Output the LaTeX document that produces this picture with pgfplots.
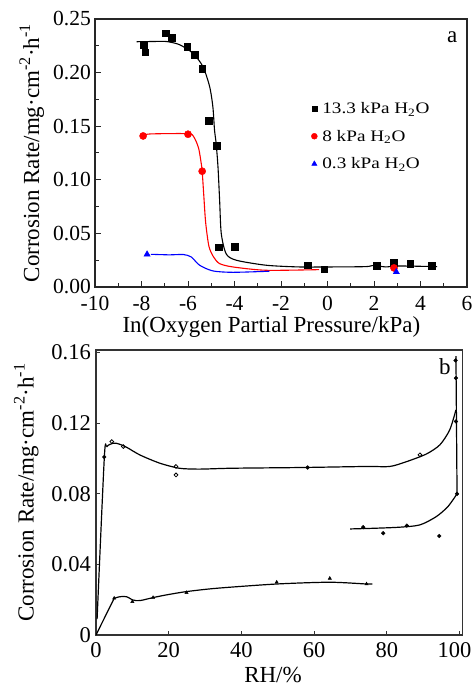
\documentclass[border=0pt]{standalone}
\usepackage{fontspec}
\setmainfont{Liberation Serif}
\usepackage{graphicx}
\usepackage{pgfplots}
\pgfplotsset{compat=1.18}
\newcommand{\legtxt}[1]{\scalebox{1.2}[1]{#1}}
\begin{document}
\begin{tikzpicture}[x=1pt,y=1pt]
\path[use as bounding box] (0,0) rectangle (473,686);
% ---------------- panel a ----------------
\begin{axis}[
  scale only axis, width=372pt, height=268pt,
  at={(95pt,399pt)}, anchor=south west,
  xmin=-10, xmax=6, ymin=0, ymax=0.25,
  xtick={-10,-8,-6,-4,-2,0,2,4,6},
  ytick={0,0.05,0.1,0.15,0.2,0.25},
  minor x tick num=1, minor y tick num=1,
  tick align=inside, xtick pos=bottom, ytick pos=left,
  major tick length=6pt, minor tick length=3.5pt,
  axis line style={line width=1.4pt, black!85},
  every tick/.style={black!85, line width=1pt},
  scaled y ticks=false,
  /pgf/number format/assume math mode=true,
  yticklabel style={/pgf/number format/fixed, /pgf/number format/fixed zerofill, /pgf/number format/precision=2, inner sep=1pt, xshift=-3pt},
  xticklabel style={inner sep=1pt, yshift=-8pt},
  tick label style={font=\fontsize{21.5}{21.5}\selectfont},
  xlabel={In(Oxygen Partial Pressure/kPa)},
  ylabel={Corrosion Rate/mg\textperiodcentered cm\textsuperscript{-2}\textperiodcentered h\textsuperscript{-1}},
  label style={font=\fontsize{23}{23}\selectfont, inner sep=1pt},
  xlabel style={at={(axis description cs:0.474,-0.1716)}, anchor=base},
  ylabel style={at={(axis description cs:-0.17,0.5)}, anchor=center},
  legend style={draw=none, fill=none, at={(0.573,0.701)}, anchor=north west,
    font=\fontsize{16}{16}\selectfont, row sep=13pt,
    nodes={inner sep=1pt},
    /tikz/every odd column/.append style={column sep=4pt}},
  legend cell align=left,
]
\addplot[black, line width=1.1pt, smooth, tension=0.45, forget plot] coordinates {
(-8.21,0.2288) (-7.5,0.229) (-6.93,0.229) (-6.36,0.226) (-5.79,0.218) (-5.36,0.2057)
(-5.07,0.187) (-4.93,0.168) (-4.86,0.1465) (-4.79,0.134) (-4.71,0.112) (-4.64,0.081)
(-4.57,0.05) (-4.36,0.031) (-3.93,0.025) (-2.64,0.0203) (-1.21,0.0187) (0.21,0.0187)
(1.64,0.019) (1.93,0.0200) (2.2,0.0196) (2.5,0.0187) (3.07,0.0196) (4.71,0.019)};
\addplot[red, line width=1.1pt, smooth, tension=0.45, forget plot] coordinates {
(-7.93,0.1415) (-7.6,0.1428) (-6.0,0.143) (-5.75,0.140) (-5.55,0.130) (-5.45,0.118)
(-5.39,0.108) (-5.32,0.085) (-5.24,0.06) (-5.1,0.038) (-4.9,0.028) (-4.64,0.0218)
(-4.07,0.0187) (-2.64,0.0156) (-0.36,0.0162)};
\addplot[blue, line width=1.1pt, smooth, tension=0.45, forget plot] coordinates {
(-7.6,0.0305) (-6.8,0.0300) (-6.2,0.0303) (-5.86,0.028) (-5.5,0.0203) (-4.93,0.015)
(-4.07,0.0137) (-2.5,0.0147)};
\addplot[only marks, mark=square*, mark size=3.3pt, black, legend image post style={mark size=2.6pt}] coordinates {
(-7.90,0.226) (-7.84,0.219) (-6.97,0.2366) (-6.71,0.2328) (-6.04,0.2244) (-5.71,0.2166)
(-5.39,0.2039) (-5.11,0.155) (-4.77,0.132) (-4.68,0.0370) (-4.00,0.0375) (-0.84,0.0204)
(-0.15,0.0165) (2.12,0.0198) (2.86,0.0225) (3.56,0.0220) (4.47,0.0199)};
\addlegendentry{\legtxt{13.3 kPa H\textsubscript{2}O}}
\addplot[only marks, mark=*, mark size=3.6pt, red, legend image post style={mark size=3pt}] coordinates {
(-7.93,0.1409) (-6.0,0.1425) (-5.39,0.108) (2.86,0.0178)};
\addlegendentry{\legtxt{8 kPa H\textsubscript{2}O}}
\addplot[only marks, mark=triangle*, mark size=3.6pt, blue, legend image post style={mark size=3pt}] coordinates {
(-7.76,0.0305) (2.96,0.014)};
\addlegendentry{\legtxt{0.3 kPa H\textsubscript{2}O}}
\node[font=\fontsize{23}{23}\selectfont] at (rel axis cs:0.96,0.933) {a};
\end{axis}
% ---------------- panel b ----------------
\begin{axis}[
  scale only axis, width=366.5pt, height=285pt,
  at={(96pt,51pt)}, anchor=south west,
  xmin=0, xmax=100.8, ymin=0, ymax=0.1615,
  xtick={0,20,40,60,80},
  extra x ticks={100},
  extra x tick style={xticklabel style={xshift=-5pt}},
  ytick={0,0.04,0.08,0.12,0.16},
  yticklabels={0,0.04,0.08,0.12,0.16},
  tick align=inside, xtick pos=bottom, ytick pos=left,
  major tick length=4pt,
  axis line style={line width=1.8pt, black!80},
  every tick/.style={black!80, line width=1pt},
  scaled y ticks=false,
  /pgf/number format/assume math mode=true,
  xticklabel style={inner sep=1pt, yshift=-6pt},
  yticklabel style={inner sep=1pt, xshift=-4pt},
  tick label style={font=\fontsize{22.5}{22.5}\selectfont},
  xlabel={RH/\%},
  ylabel={Corrosion Rate/mg\textperiodcentered cm\textsuperscript{-2}\textperiodcentered h\textsuperscript{-1}},
  label style={font=\fontsize{23}{23}\selectfont, inner sep=1pt},
  xlabel style={at={(axis description cs:0.483,-0.165)}, anchor=base},
  ylabel style={at={(axis description cs:-0.19,0.5)}, anchor=center},
]
\addplot[black, line width=1.2pt, smooth, tension=0.45] coordinates {
(0.3,0.009) (2.3,0.101) (3.0,0.1068) (4.8,0.1087) (6.2,0.1083) (8.4,0.1064) (12.1,0.102)
(17.5,0.0974) (22.9,0.0945) (28.4,0.094) (37.4,0.0945) (56.2,0.0949) (74.4,0.0955)
(80.8,0.0955) (85.5,0.0983) (90.9,0.1026) (94.6,0.1078) (97.3,0.1163) (99.0,0.1276)};
\addplot[black, line width=1.2pt, smooth, tension=0.45] coordinates {
(69.9,0.0601) (76.8,0.0605) (83.6,0.0611) (89.1,0.0624) (93.6,0.0671) (96.8,0.0728) (99.3,0.080)};
\addplot[black, line width=1.2pt] coordinates {(99.3,0.080) (99.0,0.158)};
\addplot[black, line width=1.2pt] coordinates {(0,0) (5.0,0.0208)};
\addplot[black, line width=1.2pt, smooth, tension=0.45] coordinates {
(5.0,0.0208) (6.6,0.0217) (8.4,0.0217) (10.2,0.0198) (12.1,0.0195) (15.7,0.0212)
(19.3,0.0227) (24.9,0.0246) (33.3,0.0265) (49.7,0.0289) (64.3,0.0299) (74.4,0.0289) (76.0,0.0289)};
\addplot[only marks, mark=*, mark size=1.9pt, black] coordinates {
(2.27,0.1009) (58.2,0.0949) (99.0,0.121) (99.0,0.1456) (98.9,0.1556) (73.5,0.0611)
(79.0,0.0577) (85.5,0.062) (94.4,0.0561) (99.3,0.080)};
\addplot[only marks, mark=o, mark size=1.9pt, black, mark options={line width=0.8pt, fill=white}] coordinates {
(4.35,0.1096) (7.5,0.1068) (22.0,0.0955) (22.0,0.0907) (89.1,0.1021)};
\addplot[only marks, mark=triangle*, mark size=1.9pt, black] coordinates {
(5.0,0.0208) (10.0,0.0189) (15.7,0.0212) (24.9,0.024) (49.7,0.0299) (64.3,0.0321) (74.4,0.0289)};
\node[font=\fontsize{23}{23}\selectfont] at (rel axis cs:0.952,0.94) {b};
\end{axis}
\end{tikzpicture}
\end{document}
